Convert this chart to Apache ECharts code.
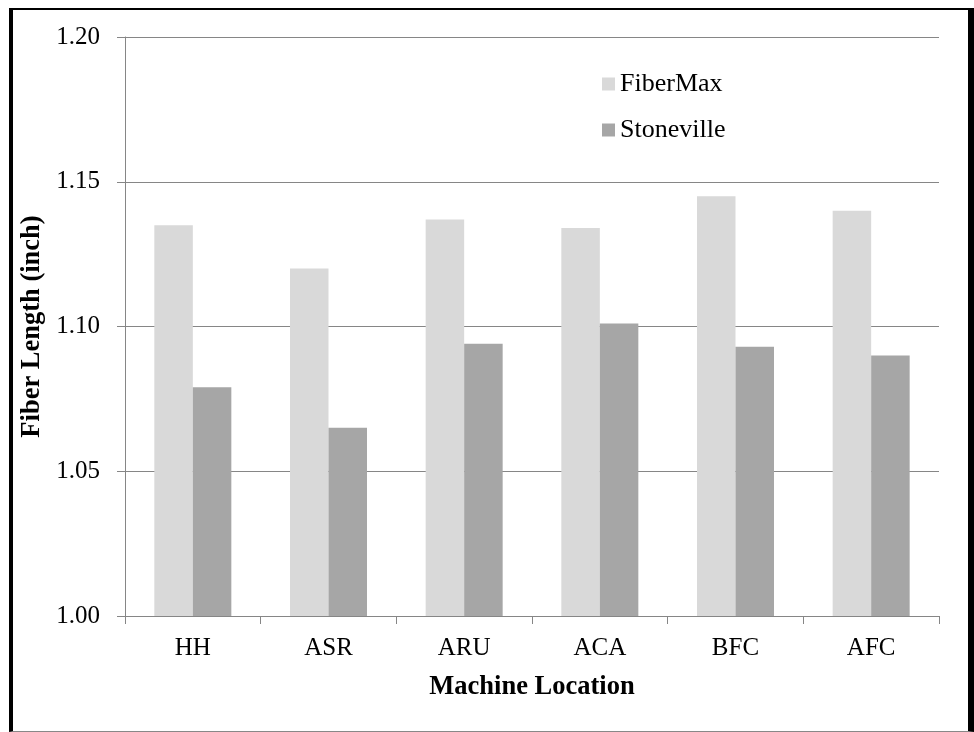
<!DOCTYPE html>
<html>
<head>
<meta charset="utf-8">
<script src="https://cdn.jsdelivr.net/npm/echarts@6/dist/echarts.min.js"></script>
<style>
  html, body { margin: 0; padding: 0; background: #fff; }
  #chart { position: absolute; left: 0; top: 0; width: 974px; height: 732px; }
  #frame {
    position: absolute; left: 9px; top: 8px; right: 0; height: 721px;
    border-left: 4px solid #000; border-top: 2px solid #000;
    border-right: 6px solid #000; border-bottom: 1px solid #888;
    pointer-events: none;
  }
</style>
</head>
<body>
<div id="chart"></div>
<div id="frame"></div>
<script>
// Fiber length by machine location for two cotton varieties
const locations = ['HH', 'ASR', 'ARU', 'ACA', 'BFC', 'AFC'];
const fiberMax = [1.135, 1.120, 1.137, 1.134, 1.145, 1.140];
const stoneville = [1.079, 1.065, 1.094, 1.101, 1.093, 1.090];
const seriesNames = ['FiberMax', 'Stoneville'];

const serif = '"Liberation Serif", "Times New Roman", serif';
const gridColor = '#868686';

const chart = echarts.init(document.getElementById('chart'), null, { renderer: 'canvas' });

chart.setOption({
  animation: false,
  backgroundColor: '#fff',
  textStyle: { fontFamily: serif, color: '#000' },
  grid: { left: 125, right: 35, top: 37, bottom: 116, containLabel: false },
  legend: {
    orient: 'vertical',
    left: 602,
    top: 71,
    padding: 0,
    itemGap: 20,
    itemWidth: 13,
    itemHeight: 13,
    icon: 'rect',
    data: seriesNames,
    textStyle: { fontFamily: serif, fontSize: 26, color: '#000', lineHeight: 26 }
  },
  xAxis: {
    type: 'category',
    data: locations,
    name: 'Machine Location',
    nameLocation: 'middle',
    nameGap: 58,
    nameTextStyle: { fontFamily: serif, fontSize: 26.5, fontWeight: 'bold', color: '#000' },
    axisLine: { show: true, lineStyle: { color: gridColor, width: 1 } },
    axisTick: { show: true, alignWithLabel: false, length: 8, lineStyle: { color: gridColor } },
    axisLabel: { fontFamily: serif, fontSize: 25, color: '#000', margin: 20 },
    splitLine: { show: false }
  },
  yAxis: {
    type: 'value',
    min: 1.00,
    max: 1.20,
    interval: 0.05,
    name: 'Fiber Length (inch)',
    nameLocation: 'middle',
    nameGap: 76,
    nameTextStyle: { fontFamily: serif, fontSize: 26.5, fontWeight: 'bold', color: '#000' },
    axisLine: { show: true, lineStyle: { color: gridColor, width: 1 } },
    axisTick: { show: true, length: 8, lineStyle: { color: gridColor } },
    axisLabel: {
      fontFamily: serif, fontSize: 25, color: '#000', margin: 25,
      formatter: v => v.toFixed(2)
    },
    splitLine: { show: true, lineStyle: { color: gridColor, width: 1 } }
  },
  series: [
    {
      name: seriesNames[0],
      type: 'bar',
      data: fiberMax,
      barWidth: 38.5,
      barGap: '0%',
      itemStyle: { color: '#d9d9d9' }
    },
    {
      name: seriesNames[1],
      type: 'bar',
      data: stoneville,
      barWidth: 38.5,
      barGap: '0%',
      itemStyle: { color: '#a6a6a6' }
    }
  ]
});
</script>
</body>
</html>
